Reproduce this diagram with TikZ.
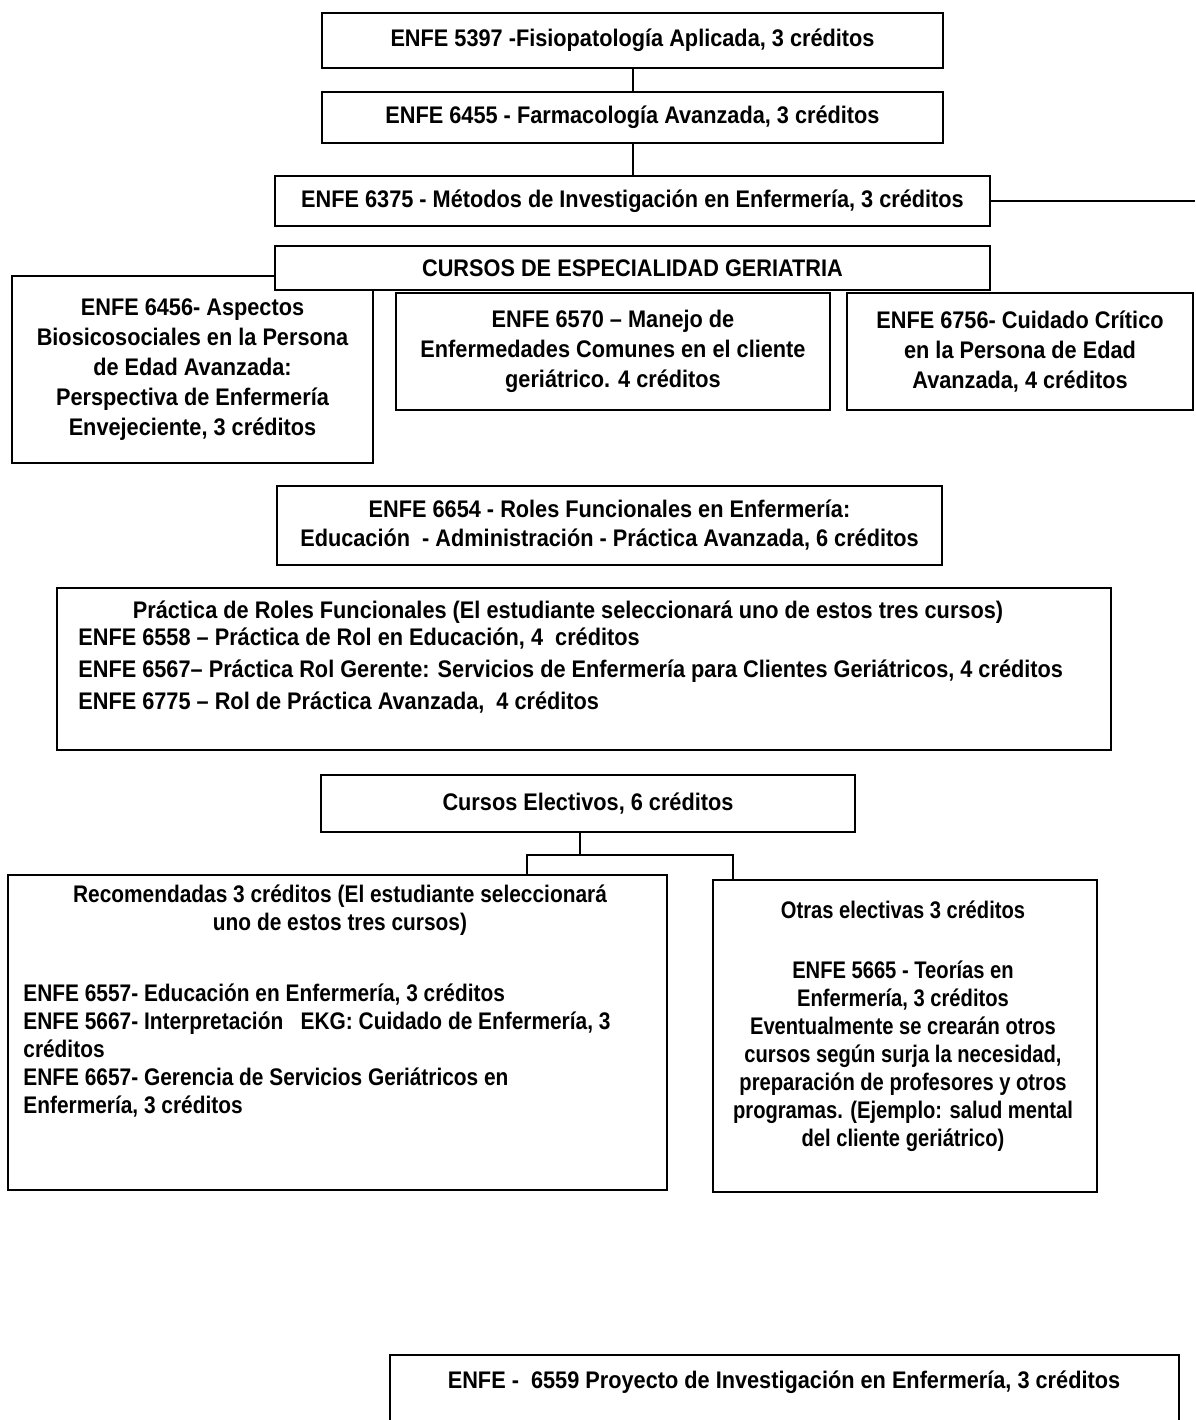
\documentclass[tikz,border=0pt]{standalone}
\usepackage{fontspec}
\newfontfamily\nfont[FakeStretch=0.905]{Liberation Sans}
\newfontfamily\rfont[FakeStretch=0.87]{Liberation Sans}
\newfontfamily\ofont[FakeStretch=0.84]{Liberation Sans}
\begin{document}
\begin{tikzpicture}[x=0.5pt,y=-0.5pt,
  box/.style={draw,line width=1pt,fill=white,inner sep=0pt,align=center,
    font=\nfont\bfseries\fontsize{12}{15}\selectfont},
  txt/.style={inner sep=0pt,font=\nfont\bfseries\fontsize{12}{14}\selectfont},
  conn/.style={line width=1pt}]
\useasboundingbox[fill=white] (0,0) rectangle (1195,1420);

% top chain
\node[box,minimum width=310.5pt,minimum height=27.5pt] (b5397) at (632.5,40.5)
  {ENFE 5397 -Fisiopatología Aplicada, 3 créditos};
\node[box,minimum width=310.5pt,minimum height=25.5pt] (b6455) at (632.5,117.5)
  {ENFE 6455 - Farmacología Avanzada, 3 créditos};
\node[box,minimum width=357.5pt,minimum height=25pt] (b6375) at (632.5,201)
  {ENFE 6375 - Métodos de Investigación en Enfermería, 3 créditos};
\coordinate (rightend) at (1195,201);
\draw[conn] (b5397.south) -- (b6455.north);
\draw[conn] (b6455.south) -- (b6375.north);
\draw[conn] (b6375.east) -- (rightend);

% specialty
\node[box,minimum width=180.5pt,minimum height=93.5pt] (b6456) at (192.5,369.5)
  {ENFE 6456- Aspectos\\Biosicosociales en la Persona\\de Edad Avanzada:\\Perspectiva de Enfermería\\Envejeciente, 3 créditos};
\node[box,minimum width=357.5pt,minimum height=22pt] (bcursos) at (632.5,268)
  {CURSOS DE ESPECIALIDAD GERIATRIA};
\node[box,minimum width=217pt,minimum height=58.5pt] (b6570) at (613,351.5)
  {ENFE 6570 – Manejo de\\Enfermedades Comunes en el cliente\\geriátrico. 4 créditos};
\node[box,minimum width=173pt,minimum height=58.5pt] (b6756) at (1020,351.5)
  {ENFE 6756- Cuidado Crítico\\en la Persona de Edad\\Avanzada, 4 créditos};

% roles
\node[box,minimum width=332.5pt,minimum height=39.5pt,
  font=\nfont\bfseries\fontsize{12}{14.5}\selectfont] (b6654) at (609.5,525.5)
  {ENFE 6654 - Roles Funcionales en Enfermería:\\Educación\ \ - Administración - Práctica Avanzada, 6 créditos};

\node[box,minimum width=527pt,minimum height=81pt] (bpract) at (584,669) {};
\node[txt,anchor=north] (tpract) at (568,600)
  {Práctica de Roles Funcionales (El estudiante seleccionará uno de estos tres cursos)};
\node[txt,anchor=north west,align=left,font=\nfont\bfseries\fontsize{12}{16}\selectfont] (lpract) at (78,627)
  {ENFE 6558 – Práctica de Rol en Educación, 4\ \ créditos\\
   ENFE 6567– Práctica Rol Gerente: Servicios de Enfermería para Clientes Geriátricos, 4 créditos\\
   ENFE 6775 – Rol de Práctica Avanzada,\ \ 4 créditos};

% electives
\node[box,minimum width=267pt,minimum height=28.5pt] (belect) at (588,803.5)
  {Cursos Electivos, 6 créditos};
\node[box,minimum width=329.5pt,minimum height=157.5pt] (brecom) at (337.5,1032.5) {};
\node[box,minimum width=192pt,minimum height=156pt] (botras) at (905,1036) {};
\coordinate (jl) at (527,855);
\coordinate (jm) at (580,855);
\coordinate (jr) at (733,855);
\draw[conn] (jm |- belect.south) -- (jm);
\draw[conn] (jl |- brecom.north) -- (jl) -- (jr) -- (jr |- botras.north);

\node[txt,anchor=north,align=center,font=\rfont\bfseries\fontsize{12}{14}\selectfont] (trecom) at (340,884)
  {Recomendadas 3 créditos (El estudiante seleccionará\\uno de estos tres cursos)};
\node[txt,anchor=north west,align=left,font=\rfont\bfseries\fontsize{12}{14}\selectfont] (lrecom) at (23,983)
  {ENFE 6557- Educación en Enfermería, 3 créditos\\
   ENFE 5667- Interpretación\ \ \ EKG: Cuidado de Enfermería, 3\\
   créditos\\
   ENFE 6657- Gerencia de Servicios Geriátricos en\\
   Enfermería, 3 créditos};

\node[txt,anchor=north,font=\ofont\bfseries\fontsize{12}{14}\selectfont] (totras) at (903,900) {Otras electivas 3 créditos};
\node[txt,anchor=north,align=center,font=\ofont\bfseries\fontsize{12}{14}\selectfont] (lotras) at (903,960)
  {ENFE 5665 - Teorías en\\Enfermería, 3 créditos\\Eventualmente se crearán otros\\cursos según surja la necesidad,\\preparación de profesores y otros\\programas. (Ejemplo: salud mental\\del cliente geriátrico)};

% final project (cut by page edge)
\coordinate (p1) at (390,1420);
\coordinate (p2) at (390,1355);
\coordinate (p3) at (1179,1355);
\coordinate (p4) at (1179,1420);
\draw[conn] (p1) -- (p2) -- (p3) -- (p4);
\node[txt] (b6559) at (784,1382)
  {ENFE -\ \ 6559 Proyecto de Investigación en Enfermería, 3 créditos};
\end{tikzpicture}
\end{document}
